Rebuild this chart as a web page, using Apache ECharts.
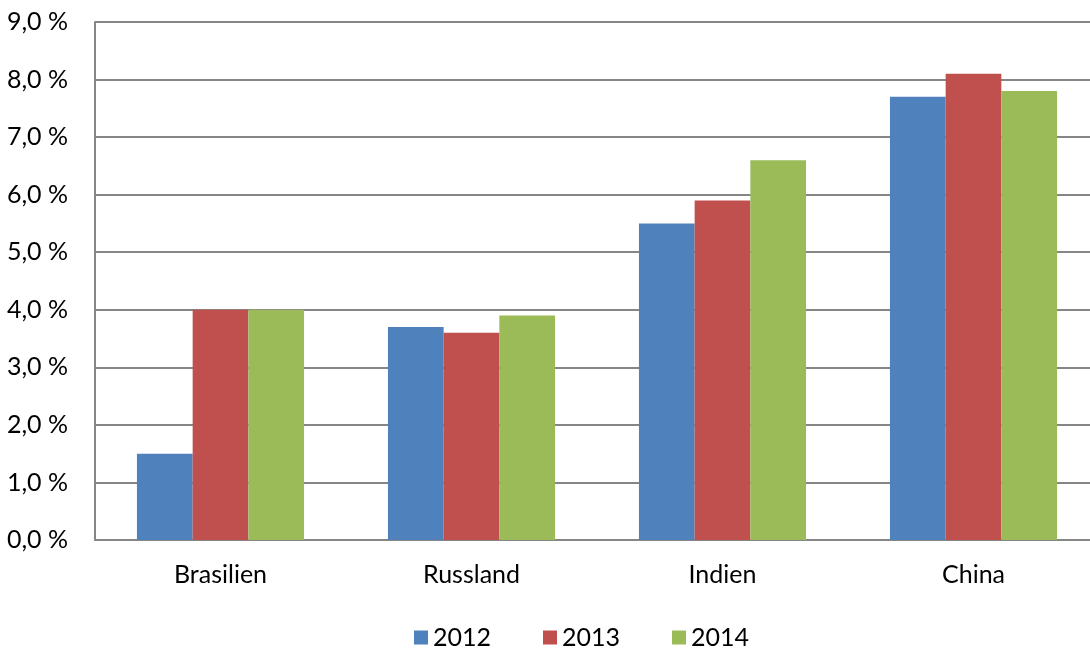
<!DOCTYPE html>
<html><head><meta charset="utf-8">
<script src="https://cdn.jsdelivr.net/npm/echarts@6/dist/echarts.min.js"></script>
<style>html,body{margin:0;padding:0;background:#fff}#c{width:1090px;height:651px}</style>
</head><body><div id="c"></div>
<script>
const categories = ['Brasilien', 'Russland', 'Indien', 'China'];
const seriesNames = ['2012', '2013', '2014'];
const values2012 = [1.5, 3.7, 5.5, 7.7];
const values2013 = [4.0, 3.6, 5.9, 8.1];
const values2014 = [4.0, 3.9, 6.6, 7.8];
const colors = ['#4F81BD', '#C0504D', '#9BBB59'];
const font = 'Lato, "Open Sans", "Noto Sans", sans-serif';

const chart = echarts.init(document.getElementById('c'), null, {renderer: 'canvas'});
const data = [values2012, values2013, values2014];
chart.setOption({
  animation: false,
  textStyle: {fontFamily: font},
  grid: {left: 95, width: 1004, top: 22, height: 518, containLabel: false, outerBoundsMode: 'none'},
  legend: {
    top: 620, left: 409, itemWidth: 14, itemHeight: 14, itemGap: 52,
    icon: 'rect',
    textStyle: {fontSize: 25, color: '#000', fontFamily: font},
    data: seriesNames
  },
  xAxis: {
    type: 'category', data: categories,
    axisLine: {lineStyle: {color: '#868686', width: 2}},
    axisTick: {show: false},
    axisLabel: {fontSize: 25, color: '#000', margin: 22, fontFamily: font}
  },
  yAxis: {
    type: 'value', min: 0, max: 9, interval: 1,
    axisLine: {show: true, lineStyle: {color: '#868686', width: 2}},
    axisTick: {show: false},
    splitLine: {lineStyle: {color: '#868686', width: 2}},
    axisLabel: {fontSize: 25, color: '#000', margin: 27, fontFamily: font,
      formatter: v => v.toFixed(1).replace('.', ',') + ' %'}
  },
  series: seriesNames.map((n, i) => ({
    name: n, type: 'bar', data: data[i], barWidth: 55.7, barGap: '0%',
    itemStyle: {color: colors[i]}
  }))
});
</script></body></html>
